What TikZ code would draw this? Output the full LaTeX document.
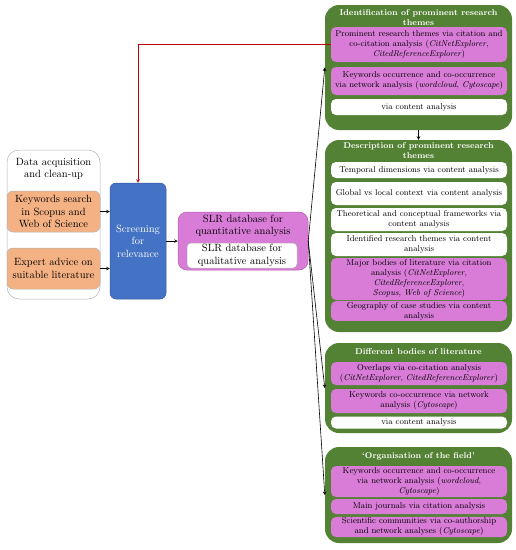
\documentclass[tikz,border=0pt]{standalone}
\definecolor{grn}{RGB}{84,130,53}
\definecolor{plum}{RGB}{216,124,216}
\definecolor{peach}{RGB}{244,177,131}
\definecolor{blu}{RGB}{68,114,196}
\definecolor{redline}{RGB}{192,0,0}
\tikzset{
  grp/.style={fill=grn, rounded corners=14pt, minimum width=187pt, inner sep=0pt},
  ttl/.style={text=white, align=center, font=\fontsize{8.5}{10}\selectfont\bfseries},
  inbox/.style={fill=plum, rounded corners=5pt, minimum width=176pt, inner sep=1pt,
    align=center, font=\fontsize{8.5}{10}\selectfont},
  wbox/.style={inbox, fill=white},
  lbox/.style={draw=gray!60, line width=0.5pt, rounded corners=6pt, align=center,
    inner sep=1pt, font=\fontsize{10.5}{12.5}\selectfont}
}
\begin{document}
\begin{tikzpicture}[x=1pt, y=-1pt, >=stealth]
  \useasboundingbox (0,0) rectangle (516,550);
  % left part
  \node[lbox, rounded corners=12pt, minimum width=93pt, minimum height=149pt] (acq) at (53.5,224.5) {};
  \node[align=center, font=\fontsize{10.5}{12.5}\selectfont] (acqt) at (53.5,169) {Data acquisition\\and clean-up};
  \node[lbox, fill=peach, minimum width=93pt, minimum height=41pt] (kw) at (53.5,211.5) {Keywords search\\in Scopus and\\Web of Science};
  \node[lbox, fill=peach, minimum width=93pt, minimum height=41pt] (ex) at (53.5,268.5) {Expert advice on\\suitable literature};
  \node[lbox, draw=blu!80!black, fill=blu, text=white, minimum width=56pt, minimum height=116pt] (scr) at (138,241) {Screening\\for\\relevance};
  \node[lbox, draw=plum!80!black, fill=plum, rounded corners=9pt, minimum width=130pt, minimum height=58pt] (slr) at (243,241) {};
  \node[align=center, font=\fontsize{10.5}{12.5}\selectfont] (slrt) at (243,226) {SLR database for\\quantitative analysis};
  \node[lbox, fill=white, rounded corners=4pt, minimum width=110pt, minimum height=25pt] (slrq) at (242,255.5) {SLR database for\\qualitative analysis};
  % identification
  \node[grp, minimum height=125pt] (g1) at (418.5,67.5) {};
  \node[ttl] (g1t) at (418.5,17.5) {Identification of prominent research\\themes};
  \node[inbox, minimum height=35pt] (p1) at (419,44.5) {Prominent research themes via citation and\\co-citation analysis (\textit{CitNetExplorer},\\\textit{CitedReferenceExplorer})};
  \node[inbox, minimum height=28pt] (p2) at (419,81) {Keywords occurrence and co-occurrence\\via network analysis (\textit{wordcloud}, \textit{Cytoscape})};
  \node[wbox, minimum height=16pt] (w1) at (419,107) {via content analysis};
  % description
  \node[grp, minimum height=192pt] (g2) at (418.5,236) {};
  \node[ttl] (g2t) at (418.5,151) {Description of prominent research\\themes};
  \node[wbox, minimum height=16pt] (d1) at (419,170) {Temporal dimensions via content analysis};
  \node[wbox, minimum height=23pt] (d2) at (419,193.5) {Global vs local context via content analysis};
  \node[wbox, minimum height=23pt] (d3) at (419,219.5) {Theoretical and conceptual frameworks via\\content analysis};
  \node[wbox, minimum height=23pt] (d4) at (419,244.5) {Identified research themes via content\\analysis};
  \node[inbox, minimum height=42pt] (d5) at (419,279) {Major bodies of literature via citation\\analysis (\textit{CitNetExplorer},\\\textit{CitedReferenceExplorer},\\\textit{Scopus}, \textit{Web of Science})};
  \node[inbox, minimum height=18pt] (d6) at (419,311) {Geography of case studies via content\\analysis};
  % bodies
  \node[grp, minimum height=90pt] (g3) at (418.5,388) {};
  \node[ttl] (g3t) at (418.5,352) {Different bodies of literature};
  \node[inbox, minimum height=23pt] (b1) at (419,373.5) {Overlaps via co-citation analysis\\(\textit{CitNetExplorer}, \textit{CitedReferenceExplorer})};
  \node[inbox, minimum height=24pt] (b2) at (419,401) {Keywords co-occurrence via network\\analysis (\textit{Cytoscape})};
  \node[wbox, minimum height=12pt] (b3) at (419,422.5) {via content analysis};
  % organisation
  \node[grp, minimum height=96pt] (g4) at (418.5,495) {};
  \node[ttl] (g4t) at (418.5,456) {`Organisation of the field'};
  \node[inbox, minimum height=31pt] (o1) at (419,481.5) {Keywords occurrence and co-occurrence\\via network analysis (\textit{wordcloud},\\\textit{Cytoscape})};
  \node[inbox, minimum height=15pt] (o2) at (419,506.5) {Main journals via citation analysis};
  \node[inbox, minimum height=20pt] (o3) at (419,527) {Scientific communities via co-authorship\\and network analyses (\textit{Cytoscape})};
  \begin{scope}[->, line width=0.6pt]
    \draw (kw.east) to (kw.east -| scr.west);
    \draw (ex.east) to (ex.east -| scr.west);
    \draw (scr.east) to (slr.west);
    \draw (slr.east) to (g1.west);
    \draw (slr.east) to (g3.west);
    \draw (slr.east) to (g4.west);
    \draw (g1.south) to (g2.north);
    \draw[redline] (p1.west) -| (scr.north);
  \end{scope}
\end{tikzpicture}
\end{document}
